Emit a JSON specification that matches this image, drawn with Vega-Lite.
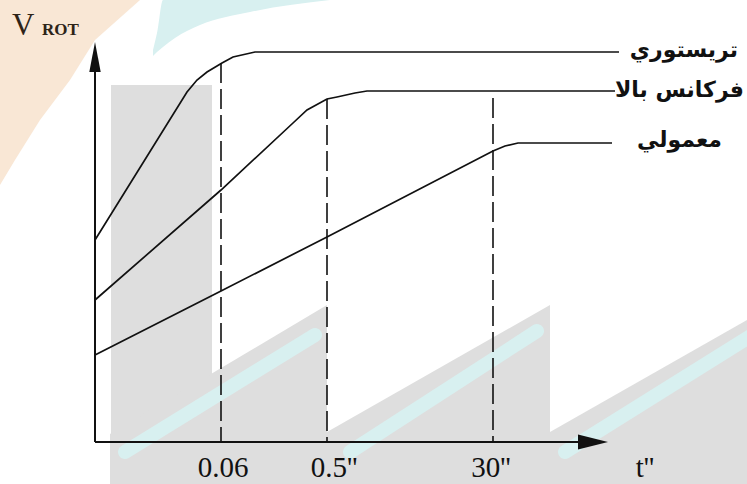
{
  "$schema": "https://vega.github.io/schema/vega-lite/v6.json",
  "width": 747,
  "height": 484,
  "autosize": {"type": "none"},
  "padding": 0,
  "background": "white",
  "config": {"view": {"stroke": null}},
  "datasets": {
    "peach": [
      {"x": -95, "y": 442, "y2": 257},
      {"x": -80, "y": 442, "y2": 282},
      {"x": -55, "y": 442, "y2": 322},
      {"x": -25, "y": 442, "y2": 362},
      {"x": 0, "y": 442, "y2": 402},
      {"x": 45, "y": 442, "y2": 442}
    ],
    "crescent": [
      {"x": 58, "y": 392, "y2": 386},
      {"x": 62, "y": 409, "y2": 390},
      {"x": 68, "y": 442, "y2": 395},
      {"x": 80, "y": 442, "y2": 404},
      {"x": 105, "y": 442, "y2": 417},
      {"x": 155, "y": 442, "y2": 430},
      {"x": 235, "y": 442, "y2": 442}
    ],
    "block": [{"x": 16, "x2": 117, "y": 357, "y2": -42}],
    "teeth": [
      {"tooth": 1, "x": 15, "y": 8, "y2": -42},
      {"tooth": 1, "x": 232, "y": 137, "y2": -42},
      {"tooth": 2, "x": 232, "y": 10, "y2": -42},
      {"tooth": 2, "x": 455, "y": 137, "y2": -42},
      {"tooth": 3, "x": 455, "y": 10, "y2": -42},
      {"tooth": 3, "x": 652, "y": 122, "y2": -42}
    ],
    "bands": [
      {"band": 1, "x": 30, "y": -10},
      {"band": 1, "x": 220, "y": 107},
      {"band": 2, "x": 255, "y": -10},
      {"band": 2, "x": 442, "y": 111},
      {"band": 3, "x": 470, "y": -10},
      {"band": 3, "x": 665, "y": 112}
    ],
    "curves": [
      {"series": "تريستوري", "x": 0, "y": 202},
      {"series": "تريستوري", "x": 92, "y": 350},
      {"series": "تريستوري", "x": 102, "y": 362},
      {"series": "تريستوري", "x": 112, "y": 370},
      {"series": "تريستوري", "x": 127, "y": 379},
      {"series": "تريستوري", "x": 138, "y": 385},
      {"series": "تريستوري", "x": 160, "y": 390},
      {"series": "تريستوري", "x": 524, "y": 390},
      {"series": "فركانس بالا", "x": 0, "y": 142},
      {"series": "فركانس بالا", "x": 126, "y": 252},
      {"series": "فركانس بالا", "x": 198, "y": 319},
      {"series": "فركانس بالا", "x": 212, "y": 332},
      {"series": "فركانس بالا", "x": 232, "y": 343},
      {"series": "فركانس بالا", "x": 242, "y": 345},
      {"series": "فركانس بالا", "x": 260, "y": 349},
      {"series": "فركانس بالا", "x": 272, "y": 351},
      {"series": "فركانس بالا", "x": 520, "y": 351},
      {"series": "معمولي", "x": 0, "y": 87},
      {"series": "معمولي", "x": 126, "y": 151},
      {"series": "معمولي", "x": 232, "y": 205},
      {"series": "معمولي", "x": 398, "y": 291},
      {"series": "معمولي", "x": 410, "y": 296},
      {"series": "معمولي", "x": 423, "y": 299},
      {"series": "معمولي", "x": 517, "y": 299}
    ],
    "dashes": [
      {"x": 126, "y": 379, "y2": 0},
      {"x": 232, "y": 343, "y2": 0},
      {"x": 398, "y": 344, "y2": 0}
    ],
    "axes": [
      {"x": 0, "x2": 0, "y": 0, "y2": 376},
      {"x": 0, "x2": 486, "y": 0, "y2": 0}
    ],
    "arrows": [
      {"x": 0, "y": 385, "shape": "up"},
      {"x": 498, "y": 0, "shape": "right"}
    ],
    "ticks": [
      {"x": 128, "y": -35, "label": "0.06"},
      {"x": 239, "y": -35, "label": "0.5''"},
      {"x": 396, "y": -35, "label": "30''"},
      {"x": 550, "y": -35, "label": "t''"}
    ],
    "names": [
      {"x": 643, "y": 392, "label": "تريستوري"},
      {"x": 649, "y": 352, "label": "فركانس بالا"},
      {"x": 627, "y": 302, "label": "معمولي"}
    ]
  },
  "encoding": {
    "x": {"field": "x", "type": "quantitative", "scale": {"domain": [-95, 652]}, "axis": null},
    "y": {"field": "y", "type": "quantitative", "scale": {"domain": [-42, 442]}, "axis": null}
  },
  "layer": [
    {
      "data": {"name": "peach"},
      "mark": {"type": "area", "color": "#f9e7d5", "opacity": 1},
      "encoding": {"y2": {"field": "y2"}}
    },
    {
      "data": {"name": "crescent"},
      "mark": {"type": "area", "color": "#d8f0f0", "opacity": 1, "interpolate": "monotone"},
      "encoding": {"y2": {"field": "y2"}}
    },
    {
      "data": {"name": "block"},
      "mark": {"type": "rect", "color": "#dedede"},
      "encoding": {"x2": {"field": "x2"}, "y2": {"field": "y2"}}
    },
    {
      "data": {"name": "teeth"},
      "mark": {"type": "area", "color": "#dedede", "opacity": 1},
      "encoding": {"y2": {"field": "y2"}, "detail": {"field": "tooth"}}
    },
    {
      "data": {"name": "bands"},
      "mark": {"type": "line", "color": "#d8f0f0", "strokeWidth": 14, "strokeCap": "round"},
      "encoding": {"detail": {"field": "band"}}
    },
    {
      "data": {"name": "curves"},
      "mark": {"type": "line", "color": "#111", "strokeWidth": 1.7},
      "encoding": {"detail": {"field": "series"}}
    },
    {
      "data": {"name": "dashes"},
      "mark": {"type": "rule", "color": "#111", "strokeWidth": 1.6, "strokeDash": [20, 6]},
      "encoding": {"y2": {"field": "y2"}}
    },
    {
      "data": {"name": "axes"},
      "mark": {"type": "rule", "color": "#111", "strokeWidth": 2},
      "encoding": {"x2": {"field": "x2"}, "y2": {"field": "y2"}}
    },
    {
      "data": {"name": "arrows"},
      "mark": {"type": "point", "filled": true, "color": "#111", "opacity": 1, "size": 900},
      "encoding": {
        "shape": {
          "field": "shape",
          "type": "nominal",
          "scale": {"domain": ["up", "right"], "range": ["M0,-1L0.38,1L-0.38,1Z", "M1,0L-1,-0.5L-1,0.5Z"]},
          "legend": null
        }
      }
    },
    {
      "data": {"name": "ticks"},
      "mark": {"type": "text", "font": "Liberation Serif", "fontSize": 29, "align": "center", "baseline": "alphabetic", "color": "#111"},
      "encoding": {"text": {"field": "label"}}
    },
    {
      "data": {"name": "names"},
      "mark": {"type": "text", "font": "DejaVu Sans", "fontWeight": "bold", "fontSize": 22, "align": "right", "baseline": "middle", "color": "#111"},
      "encoding": {"text": {"field": "label"}}
    },
    {
      "data": {"values": [{"x": -83, "y": 407, "label": "V"}]},
      "mark": {"type": "text", "font": "Liberation Serif", "fontSize": 31, "align": "left", "baseline": "alphabetic", "color": "#2e2418"},
      "encoding": {"text": {"field": "label"}}
    },
    {
      "data": {"values": [{"x": -53, "y": 407, "label": "ROT"}]},
      "mark": {"type": "text", "font": "Liberation Serif", "fontWeight": "bold", "fontSize": 17, "align": "left", "baseline": "alphabetic", "color": "#2e2418"},
      "encoding": {"text": {"field": "label"}}
    }
  ]
}
